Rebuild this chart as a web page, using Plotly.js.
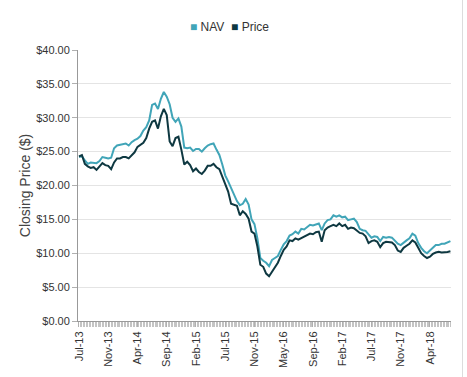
<!DOCTYPE html>
<html>
<head>
<meta charset="utf-8">
<script src="https://cdn.plot.ly/plotly-3.0.1.min.js"></script>
<style>
  html, body { margin: 0; padding: 0; background: #fff; }
  #wrap { width: 462px; height: 377px; border-right: 1px solid #dcdcdc; }
  #chart { width: 462px; height: 377px; }
</style>
</head>
<body>
<div id="wrap"><div id="chart"></div></div>
<script>
// Tick labels along the category (week) axis, one every 10 samples
const tickLabels = ["Jul-13","Nov-13","Apr-14","Sep-14","Feb-15","Jul-15","Nov-15","May-16","Sep-16","Feb-17","Jul-17","Nov-17","Apr-18"];

// NAV closing values (sampled about every two weeks)
const nav = [
  24.2, 24.3, 23.7, 23.2, 23.4, 23.3, 23.3, 23.6, 24.2, 24.1,
  24.0, 24.1, 25.5, 25.9, 26.0, 26.2, 26.2, 25.9, 26.4, 26.7,
  26.9, 27.3, 28.1, 28.6, 29.6, 31.9, 32.1, 31.3, 32.8, 33.8,
  33.1, 32.0, 30.0, 29.4, 29.9, 28.7, 25.6, 25.5, 25.6, 25.1,
  25.4, 25.4, 25.0, 25.5, 25.9, 26.1, 26.2, 25.3, 24.5, 23.1,
  21.5, 20.6, 19.6, 18.6, 17.7, 17.1, 17.3, 18.0, 17.2, 15.0,
  14.3, 12.2, 9.3, 8.9, 8.6, 8.1, 9.0, 9.3, 9.6, 10.5,
  11.3, 11.8, 12.6, 12.8, 13.2, 12.9, 13.6, 13.5, 13.8, 14.2,
  14.1, 14.3, 14.4, 13.4, 14.4, 14.9, 15.0, 15.6, 15.4, 15.6,
  15.3, 15.4, 14.9, 15.0, 15.1, 14.6, 13.6, 13.4, 13.3, 12.8,
  12.3, 12.5, 12.4, 11.8, 12.4, 12.3, 12.4, 12.3, 11.9, 11.4,
  11.2, 11.6, 11.9, 12.2, 12.9, 12.6, 11.5, 10.8, 10.3, 10.0,
  10.4, 10.9, 11.2, 11.2, 11.4, 11.4, 11.6, 11.8
];

// Market price closing values (same dates)
const price = [
  24.3, 24.5, 23.2, 22.8, 22.6, 22.7, 22.3, 22.8, 23.3, 23.0,
  22.9, 22.4, 23.4, 24.0, 24.0, 24.2, 24.2, 24.0, 24.5, 24.9,
  25.7, 26.0, 26.3, 27.0, 28.4, 29.4, 29.6, 28.4, 30.2, 31.3,
  30.4, 26.5, 25.8, 27.0, 27.2, 25.3, 23.1, 23.5, 23.0, 22.1,
  22.5, 22.0, 21.7, 22.2, 22.9, 22.9, 23.2, 22.7, 22.4, 21.3,
  20.3, 19.1, 17.3, 17.2, 17.0, 15.6, 16.2, 15.8, 15.1, 13.2,
  12.9, 11.0, 8.3, 8.0, 7.0, 6.6, 7.3, 7.9, 8.6, 9.6,
  10.5, 11.0, 11.9, 11.8, 12.2, 12.0, 12.2, 12.5, 12.6, 12.9,
  12.8, 13.1, 13.2, 11.7, 13.4, 13.8, 14.0, 14.2, 14.0, 14.4,
  14.0, 14.2, 13.6, 13.8, 13.7, 13.3, 13.0, 12.9, 12.5, 11.5,
  11.8, 11.9, 11.7, 10.9, 11.5, 11.7, 11.7, 11.6, 11.2, 10.4,
  10.2, 10.8, 11.1, 11.4, 11.9, 11.6, 10.8, 10.0, 9.6, 9.3,
  9.5, 9.9, 10.1, 10.2, 10.1, 10.1, 10.2, 10.3
];

const seriesNames = ["NAV", "Price"];
const seriesColors = ["#41a5b8", "#0e3841"];

const xIdx = nav.map((_, i) => i);
const tickPos = tickLabels.map((_, k) => k * 10);

const traces = [
  { x: xIdx, y: nav, name: seriesNames[0], type: "scatter", mode: "lines",
    line: { color: seriesColors[0], width: 2 }, hoverinfo: "y" },
  { x: xIdx, y: price, name: seriesNames[1], type: "scatter", mode: "lines",
    line: { color: seriesColors[1], width: 2 }, hoverinfo: "y" }
];

const legendText =
  '<span style="color:' + seriesColors[0] + '">\u25A0</span> ' + seriesNames[0] +
  '  <span style="color:' + seriesColors[1] + '">\u25A0</span> ' + seriesNames[1];

const layout = {
  width: 462, height: 377,
  margin: { l: 78, r: 11, t: 50, b: 56 },
  paper_bgcolor: "#ffffff", plot_bgcolor: "#ffffff",
  showlegend: false,
  font: { family: "Liberation Sans, Arial, sans-serif", size: 11, color: "#333" },
  xaxis: {
    type: "linear", range: [-0.34, 127.2],
    tickmode: "array", tickvals: tickPos, ticktext: tickLabels,
    tickangle: -90, ticks: "outside", ticklen: 5, tickcolor: "#b0b0b0",
    showline: true, linecolor: "#999", linewidth: 1,
    showgrid: false, zeroline: false,
    tickfont: { size: 11, color: "#333" },
    minor: { dtick: 0.5, tick0: 0, ticks: "outside", ticklen: 5, tickcolor: "#c4c4c4", showgrid: false }
  },
  yaxis: {
    range: [0, 40], dtick: 5, tick0: 0,
    tickprefix: "$", tickformat: ".2f",
    ticks: "outside", ticklen: 5, tickcolor: "#b0b0b0",
    showline: true, linecolor: "#999", linewidth: 1,
    gridcolor: "#e4e4e4", zeroline: false,
    tickfont: { size: 11, color: "#333" },
    title: { text: "Closing Price ($)", font: { size: 14, color: "#444" }, standoff: 2 }
  },
  annotations: [{
    xref: "paper", yref: "paper", x: 0.405, y: 1.085,
    xanchor: "center", yanchor: "middle", showarrow: false,
    text: legendText, font: { size: 12, color: "#333" }
  }]
};

Plotly.newPlot("chart", traces, layout, { displayModeBar: false, staticPlot: true });
</script>
</body>
</html>
